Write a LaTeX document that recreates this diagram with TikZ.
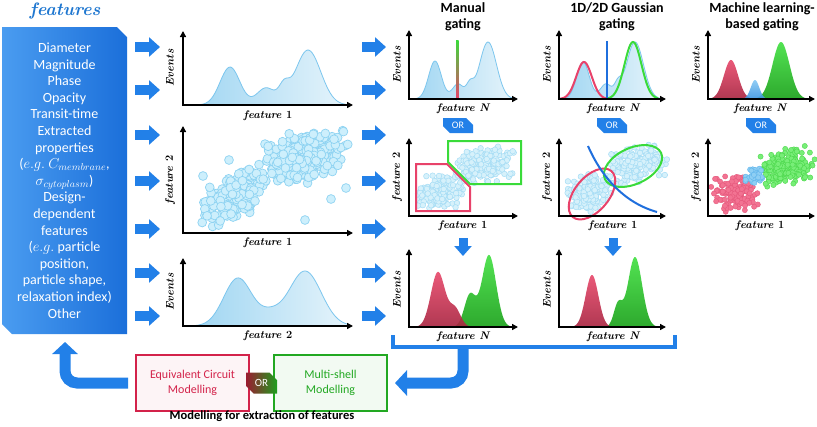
\documentclass[tikz,border=0pt]{standalone}
\usepackage{fontspec}
\newfontfamily\cf{Carlito}
\usetikzlibrary{arrows.meta,shapes.misc,calc}
\definecolor{ablue}{HTML}{2280E8}
\definecolor{ttlblue}{HTML}{1F77D0}
\definecolor{boxL}{HTML}{4A9CF0}
\definecolor{boxR}{HTML}{1B6FDA}
\definecolor{cline}{HTML}{7CC6EE}
\definecolor{cfillL}{HTML}{A0D6F2}
\definecolor{cfillR}{HTML}{E6F4FB}
\definecolor{gred}{HTML}{E8426A}
\definecolor{ggreen}{HTML}{3ADB3A}
\definecolor{gblue}{HTML}{1F6FDD}
\definecolor{redtop}{HTML}{E8476A}
\definecolor{redbot}{HTML}{A8233F}
\definecolor{grntop}{HTML}{40E040}
\definecolor{grnbot}{HTML}{17A017}
\definecolor{blutop}{HTML}{86C8F4}
\definecolor{blubot}{HTML}{3C96E2}
\definecolor{dotfill}{HTML}{CDEFFC}
\definecolor{dotline}{HTML}{8ED3F2}
\definecolor{sdotfill}{HTML}{D6F1FB}
\definecolor{sdotline}{HTML}{A6DDF5}
\definecolor{mlred}{HTML}{F27392}
\definecolor{mlredl}{HTML}{E6587C}
\definecolor{mlblue}{HTML}{8ECFF4}
\definecolor{mlbluel}{HTML}{62B6EC}
\definecolor{mlgrn}{HTML}{78EE78}
\definecolor{mlgrnl}{HTML}{4CD84C}
\definecolor{eqred}{HTML}{D3224A}
\definecolor{msgreen}{HTML}{22A822}
\definecolor{orred}{HTML}{9B1B30}
\definecolor{orgrn}{HTML}{1E9E1E}

\pgfmathdeclarefunction{gau}{3}{\pgfmathparse{exp(0-((#1-#2)/#3)^2)}}

\newcommand\labf{\fontsize{11}{12}\selectfont\bfseries\itshape}

\newcommand\density[4]{%
  \shade[left color=cfillL,right color=cfillR] (#1,#3) -- plot[domain=#1:#2,samples=90] (\x,{#3-(#4)}) -- (#2,#3) -- cycle;
  \draw[cline,line width=.8pt] plot[domain=#1:#2,samples=90] (\x,{#3-(#4)});}

\newcommand\peak[6]{% a b base expr topcolor bottomcolor
  \shade[top color=#5,bottom color=#6,opacity=.9] (#1,#3) -- plot[domain=#1:#2,samples=70] (\x,{#3-(#4)}) -- (#2,#3) -- cycle;}

\newcommand\cluster[8]{% cx cy sx sy tilt n r style
  \foreach \k in {1,...,#6}{%
    \pgfmathsetmacro\dxx{#3*(rand+rand)/2}%
    \pgfmathsetmacro\dyy{#4*(rand+rand)/2-#5*(\dxx)}%
    \path[#8] ({#1+\dxx},{#2+\dyy}) circle[radius=#7];
  }}

\newcommand\axes[4]{\draw[ax] (#1,#3) |- (#4,#2);}

\tikzset{
  ax/.style={line width=1.6pt,{Triangle[length=6pt,width=6pt]}-{Triangle[length=6pt,width=6pt]}},
  lab/.style={font=\labf,inner sep=0pt},
  hdr/.style={font=\cf\bfseries\fontsize{14}{16}\selectfont,align=center,inner sep=0pt},
  blockarr/.style={ablue,line width=10pt,-{Triangle[length=11pt,width=19pt]}},
  downarr/.style={ablue,line width=9pt,-{Triangle[length=10pt,width=17pt]}},
  bigarrow/.style={ablue,line width=11pt,rounded corners=12pt,-{Triangle[length=12pt,width=25pt]}},
  bracket/.style={ablue,line width=4pt},
  ortag/.style={chamfered rectangle,chamfered rectangle corners={north east,south west},
    chamfered rectangle sep=3.5pt,fill=ablue,text=white,font=\cf\fontsize{10}{11}\selectfont,
    minimum width=30pt,minimum height=15pt,inner sep=0pt},
  dot/.style={fill=dotfill,draw=dotline,line width=.7pt},
  sdot/.style={fill=sdotfill,draw=sdotline,line width=.5pt},
  rdot/.style={fill=mlred,draw=mlredl,line width=.4pt},
  bdot/.style={fill=mlblue,draw=mlbluel,line width=.4pt},
  gdot/.style={fill=mlgrn,draw=mlgrnl,line width=.4pt},
  modbox/.style={rectangle,line width=1.3pt,minimum width=113pt,minimum height=56pt,align=center,
    font=\cf\fontsize{12}{15}\selectfont,inner sep=0pt},
}

\begin{document}
\begin{tikzpicture}[x=1pt,y=-1pt]
\pgfmathsetseed{7}
\useasboundingbox (0,0) rectangle (817,426);
\fill[white] (0,0) rectangle (817,426);

% title and features box
\node[font=\fontsize{18}{20}\selectfont\bfseries\itshape,text=ttlblue] (ttl) at (65,11) {features};
\shade[left color=boxL,right color=boxR] (2,27) -- (117,27) -- (127,37) -- (127,334) -- (12,334) -- (2,324) -- cycle;
\node[inner sep=0pt,minimum width=125pt,minimum height=307pt] (feat) at (64.5,180.5) {};
\node[text=white,font=\cf\fontsize{14}{16.6}\selectfont,align=center] (ft) at (feat.center)
 {Diameter\\Magnitude\\Phase\\Opacity\\Transit-time\\Extracted\\properties\\(\(e.g.\) \(C_{membrane}\),\\\(\sigma_{cytoplasm}\))\\Design-\\dependent\\features\\(\(e.g.\) particle\\position,\\particle shape,\\relaxation index)\\Other};

% block arrows
\foreach \yy [count=\i] in {47,90,135,181,229,273,316}{
  \coordinate (la\i) at (135,\yy); \coordinate (lb\i) at (160,\yy);
  \draw[blockarr] (la\i) -- (lb\i);
  \coordinate (ra\i) at (362,\yy); \coordinate (rb\i) at (386,\yy);
  \draw[blockarr] (ra\i) -- (rb\i);
}

% ---------- plot A ----------
\density{190}{348}{105}{38*gau(\x,230,14)+17*gau(\x,266,13)+14*gau(\x,284,7)+55*gau(\x,308,18)}
\axes{183}{105}{31}{353}
\node[lab,rotate=90] (evA) at (170,68) {Events};
\node[lab] (fA) at (268,116) {feature \textup{1}};

% ---------- plot B ----------
\cluster{233}{196}{36}{25}{0.45}{210}{4.4pt}{dot}
\cluster{305}{157}{46}{28}{0.2}{260}{4.4pt}{dot}
\foreach \p in {(229,160),(305,220),(346,188),(331,199),(255,201),(203,176)}{\path[dot] \p circle[radius=4.4pt];}
\axes{183}{233}{126}{353}
\node[lab,rotate=90] (evB) at (170,180) {feature \textup{2}};
\node[lab] (fB) at (268,243) {feature \textup{1}};

% ---------- plot C ----------
\density{195}{350}{326}{48*gau(\x,238,20)+10*gau(\x,270,15)+55*gau(\x,305,23)}
\axes{183}{326}{258}{353}
\node[lab,rotate=90] (evC) at (170,292) {Events};
\node[lab] (fC) at (268,336) {feature \textup{2}};

% ---------- headers ----------
\node[hdr] (hM) at (463,17) {Manual\\gating};
\node[hdr] (hG) at (617,17) {1D/2D Gaussian\\gating};
\node[hdr] (hL) at (762,17) {Machine learning-\\based gating};

% ---------- Manual 1 ----------
\density{412}{514}{99}{38*gau(\x,435,9)+15*gau(\x,458,8)+12*gau(\x,470,5)+57*gau(\x,488,12)}
\shade[top color=ggreen,bottom color=gred] (456,40) rectangle (458.6,99);
\axes{409}{99}{30}{518}
\node[lab,rotate=90] (evM1) at (397,65) {Events};
\node[lab] (fM1) at (463,109) {feature N};
\node[ortag] (orM) at (458,125.5) {OR};

% ---------- Manual 2 ----------
\cluster{440}{192}{25}{21}{0.2}{150}{2.8pt}{sdot}
\cluster{486}{165}{33}{20}{0.15}{170}{2.8pt}{sdot}
\draw[gred,line width=2pt] (416,164) -- (447,164) -- (470,187) -- (470,211) -- (416,211) -- cycle;
\draw[ggreen,line width=2pt] (448,141) -- (521,141) -- (521,184) -- (470,184) -- (448,162) -- cycle;
\axes{409}{216}{138}{518}
\node[lab,rotate=90] (evM2) at (397,177) {feature \textup{2}};
\node[lab] (fM2) at (463,226) {feature \textup{1}};
\coordinate (dMa) at (463,238); \coordinate (dMb) at (463,256);
\draw[downarr] (dMa) -- (dMb);

% ---------- Manual 3 ----------
\peak{455}{516}{327}{72*gau(\x,489,10)+32*gau(\x,470,8)}{grntop}{grnbot}
\peak{413}{474}{327}{55*gau(\x,438,10)+18*gau(\x,455,8)}{redtop}{redbot}
\axes{409}{327}{249}{518}
\node[lab,rotate=90] (evM3) at (397,290) {Events};
\node[lab] (fM3) at (463,337) {feature N};

% ---------- Gaussian 1 ----------
\density{560}{662}{99}{37*gau(\x,583,9)+15*gau(\x,606,8)+12*gau(\x,618,5)+57*gau(\x,635,12)}
\draw[gred,line width=2pt] plot[domain=560:612,samples=60] (\x,{99-37*gau(\x,584,11)});
\draw[ggreen,line width=2pt] plot[domain=607:658,samples=60] (\x,{99-57*gau(\x,633,12)});
\draw[gblue,line width=1.5pt] (607,41) -- (607,99);
\axes{559}{99}{30}{666}
\node[lab,rotate=90] (evG1) at (547,65) {Events};
\node[lab] (fG1) at (613,109) {feature N};
\node[ortag] (orG) at (612,125.5) {OR};

% ---------- Gaussian 2 ----------
\cluster{590}{192}{25}{21}{0.2}{150}{2.8pt}{sdot}
\cluster{636}{165}{33}{20}{0.15}{170}{2.8pt}{sdot}
\draw[gred,line width=2pt,rotate around={50:(592,194)}] (592,194) ellipse[x radius=30pt,y radius=17pt];
\draw[ggreen,line width=2pt,rotate around={25:(633,166)}] (633,166) ellipse[x radius=31pt,y radius=18pt];
\draw[gblue,line width=2pt] (588,146) .. controls (602,178) and (625,203) .. (657,212);
\axes{559}{216}{138}{666}
\node[lab,rotate=90] (evG2) at (547,177) {feature \textup{2}};
\node[lab] (fG2) at (613,226) {feature \textup{1}};
\coordinate (dGa) at (613,238); \coordinate (dGb) at (613,256);
\draw[downarr] (dGa) -- (dGb);

% ---------- Gaussian 3 ----------
\peak{605}{663}{327}{70*gau(\x,635,10)+22*gau(\x,618,6)}{grntop}{grnbot}
\peak{572}{613}{327}{52*gau(\x,592,9)}{redtop}{redbot}
\axes{559}{327}{249}{666}
\node[lab,rotate=90] (evG3) at (547,290) {Events};
\node[lab] (fG3) at (613,337) {feature N};

% ---------- ML 1 ----------
\peak{708}{756}{99}{39*gau(\x,731,10)}{redtop}{redbot}
\peak{752}{812}{99}{57*gau(\x,781,12)}{grntop}{grnbot}
\peak{741}{769}{99}{19*gau(\x,755,6)}{blutop}{blubot}
\axes{708}{99}{30}{815}
\node[lab,rotate=90] (evL1) at (696,65) {Events};
\node[lab] (fL1) at (760,109) {feature N};
\node[ortag] (orL) at (761,125.5) {OR};

% ---------- ML 2 ----------
\cluster{736}{192}{25}{20}{0.1}{140}{2.6pt}{rdot}
\cluster{786}{167}{31}{20}{0.15}{190}{2.6pt}{gdot}
\cluster{755}{177}{12}{11}{0}{40}{2.6pt}{bdot}
\axes{708}{216}{138}{815}
\node[lab,rotate=90] (evL2) at (696,177) {feature \textup{2}};
\node[lab] (fL2) at (760,226) {feature \textup{1}};

% ---------- bottom ----------
\coordinate (brL) at (393,335); \coordinate (brR) at (675,335);
\draw[bracket] (brL) |- (675,347) -- (brR);
\node[modbox,draw=eqred,fill=eqred!5,text=eqred] (eq) at (192.5,383) {Equivalent Circuit\\Modelling};
\node[modbox,draw=msgreen,fill=msgreen!6,text=msgreen] (ms) at (330.5,383) {Multi-shell\\Modelling};
\node[chamfered rectangle,chamfered rectangle corners={north east,south west},chamfered rectangle sep=4pt,
  left color=orred,middle color=black!85,right color=orgrn,text=white,font=\cf\fontsize{11}{12}\selectfont,
  minimum width=31pt,minimum height=21pt,inner sep=0pt] (orB) at (261.5,383) {OR};
\node[font=\cf\bfseries\fontsize{12.5}{14}\selectfont] (cap) at (262,416) {Modelling for extraction of features};
\coordinate (stem) at (463,345); \coordinate (rtip) at (395,383);
\draw[bigarrow] (stem) |- (rtip);
\coordinate (lstart) at (128,383); \coordinate (ltip) at (65,342);
\draw[bigarrow] (lstart) -| (ltip);
\end{tikzpicture}
\end{document}
